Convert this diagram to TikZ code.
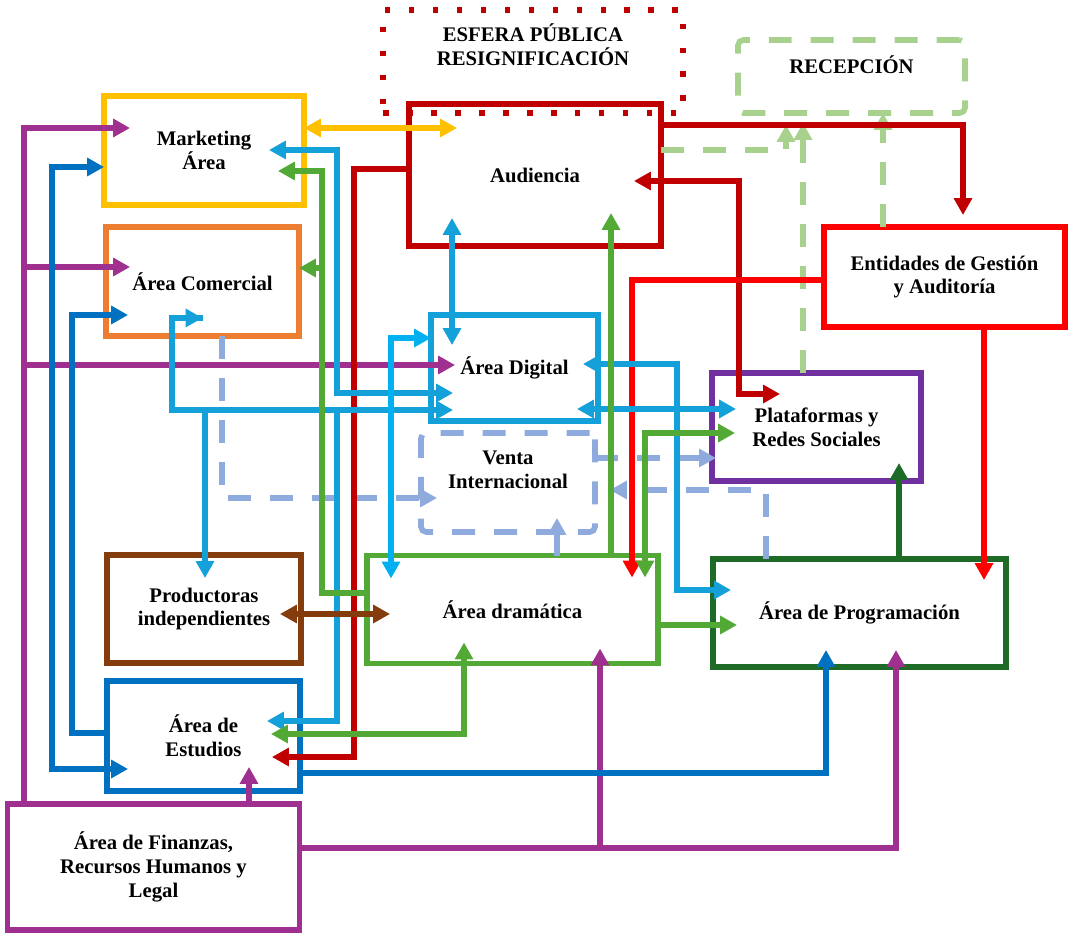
\documentclass[tikz,border=0pt]{standalone}
\usepackage{fontspec}
\setmainfont{Liberation Serif}
\usetikzlibrary{positioning,arrows.meta,calc}
\definecolor{cYellow}{HTML}{FFC000}
\definecolor{cOrange}{HTML}{ED7D31}
\definecolor{cDarkRed}{HTML}{C00000}
\definecolor{cRed}{HTML}{FF0000}
\definecolor{cSky}{HTML}{14A0D8}
\definecolor{cCyan}{HTML}{00B0F0}
\definecolor{cBlue}{HTML}{0070C0}
\definecolor{cViolet}{HTML}{7030A0}
\definecolor{cMagenta}{HTML}{A0308F}
\definecolor{cBrown}{HTML}{843C0C}
\definecolor{cGreen}{HTML}{52A936}
\definecolor{cDkGreen}{HTML}{1D6B27}
\definecolor{cPaleBlue}{HTML}{8FAADC}
\definecolor{cPaleGreen}{HTML}{A9D18E}
\begin{document}
\begin{tikzpicture}[x=0.02cm,y=-0.02cm,>={Triangle[length=9.6pt,width=10pt]},
  font=\fontsize{11.8}{13.6}\selectfont\bfseries,
  box/.style={draw,line width=3.2pt,align=center,inner sep=0pt,outer sep=0pt},
  dotbox/.style={box,dash pattern=on 0.11cm off 0.37cm},
  dashbox/.style={box,rounded corners=3pt,dash pattern=on 0.46cm off 0.38cm},
  flow/.style={line width=2.9pt,->},
  twoway/.style={line width=2.9pt,<->},
  dashflow/.style={flow,dash pattern=on 0.46cm off 0.38cm}]
\useasboundingbox (0,0) rectangle (1071,935);
% boxes
\node[dotbox,draw=cDarkRed,minimum width=6cm,minimum height=2.06cm,
  label={[anchor=north,inner sep=0pt,yshift=-0.27cm,align=center]north:{ESFERA PÚBLICA\\RESIGNIFICACIÓN}}] (esf) at (533,61.5) {};
\node[dashbox,draw=cPaleGreen,minimum width=4.54cm,minimum height=1.46cm,
  label={[anchor=north,inner sep=0pt,yshift=-0.3cm]north:{RECEPCIÓN}}] (rec) at (851.5,76.5) {};
\node[box,draw=cYellow,minimum width=4cm,minimum height=2.18cm] (mkt) at (204,150.5) {Marketing\\Área};
\node[box,draw=cOrange,minimum width=3.86cm,minimum height=2.18cm] (com) at (202.5,281.5) {Área Comercial};
\node[box,draw=cDarkRed,minimum width=5.04cm,minimum height=2.84cm] (aud) at (535,175) {Audiencia};
\node[box,draw=cRed,minimum width=4.82cm,minimum height=2cm] (ent) at (944.5,277) {Entidades de Gestión\\y Auditoría};
\node[box,draw=cSky,minimum width=3.34cm,minimum height=2.12cm] (dig) at (514.5,368) {Área Digital};
\node[dashbox,draw=cPaleBlue,minimum width=3.48cm,minimum height=1.98cm,
  label={[anchor=north,inner sep=0pt,yshift=-0.36cm,align=center]north:{Venta\\Internacional}}] (ven) at (508,482.5) {};
\node[box,draw=cViolet,minimum width=4.18cm,minimum height=2.16cm] (pla) at (816.5,427) {Plataformas y\\Redes Sociales};
\node[box,draw=cBrown,minimum width=3.88cm,minimum height=2.16cm] (pro) at (204,609) {Productoras\\independientes};
\node[box,draw=cGreen,minimum width=5.82cm,minimum height=2.16cm] (dra) at (512.5,609.5) {Área dramática};
\node[box,draw=cDkGreen,minimum width=5.86cm,minimum height=2.16cm] (prg) at (859.5,613) {Área de Programación};
\node[box,draw=cBlue,minimum width=3.86cm,minimum height=2.2cm] (est) at (203.5,736) {Área de\\Estudios};
\node[box,draw=cMagenta,minimum width=5.84cm,minimum height=2.52cm] (fin) at (153.5,867) {Área de Finanzas,\\Recursos Humanos y\\Legal};
% recepcion
\draw[dashflow,cPaleGreen] (aud.east |- 0,150) -| ($(rec.south -| 786,0)+(0,12)$);
\draw[dashflow,cPaleGreen] (pla.north -| 803,0) -- ($(rec.south -| 803,0)+(0,10)$);
\draw[dashflow,cPaleGreen] (ent.north -| 883,0) -- (rec.south -| 883,0);
% venta internacional
\draw[dashflow,cPaleBlue] (com.south -| 222,0) |- ($(ven.west |- 0,498)+(16,0)$);
\draw[dashflow,cPaleBlue] (ven.east |- 0,458) -- ($(pla.west |- 0,458)+(4,0)$);
\draw[dashflow,cPaleBlue] (prg.north -| 766,0) |- ($(ven.east |- 0,490)+(15,0)$);
\draw[dashflow,cPaleBlue] (dra.north -| 557,0) -- ($(ven.south -| 557,0)+(0,-14)$);
% finanzas
\draw[flow,cMagenta] (fin.north -| 24,0) |- (mkt.west |- 0,128) -- ++(26,0);
\draw[flow,cMagenta] (fin.north -| 24,0) |- (com.west |- 0,267) -- ++(24,0);
\draw[flow,cMagenta] (fin.north -| 24,0) |- (dig.west |- 0,365) -- ++(24,0);
\draw[flow,cMagenta] (fin.north -| 249,0) -- (est.south -| 249,0) -- ++(0,-24);
\draw[flow,cMagenta] (fin.east |- 0,848) -| (prg.south -| 896,0) -- ++(0,-17);
\draw[flow,cMagenta] (fin.east |- 0,848) -| (dra.south -| 600,0) -- ++(0,-15);
% estudios
\draw[twoway,cBlue] (mkt.west |- 0,167) -| (52,769) -- (est.west |- 0,769) -- ++(21,0);
\draw[flow,cBlue] (est.west |- 0,733) -| (72,315) -- (com.west |- 0,315) -- ++(22,0);
\draw[flow,cBlue] (est.east |- 0,773) -| (prg.south -| 826,0) -- ++(0,-17);
% audiencia
\draw[twoway,cYellow] (mkt.east |- 0,128) -- (aud.west |- 0,128) -- ++(48,0);
\draw[flow,cDarkRed] (aud.east |- 0,125) -| ($(ent.north -| 963,0)+(0,-12)$);
\draw[twoway,cDarkRed] ($(aud.east |- 0,181)+(-27,0)$) -| ($(pla.north west)+(27,21)$) -- ++(41,0);
\draw[flow,cDarkRed] (aud.west |- 0,169) -| (354,757) -- (est.east |- 0,757) -- ++(-28,0);
% entidades
\draw[flow,cRed] (ent.west |- 0,280) -| ($(dra.north -| 632,0)+(0,22)$);
\draw[flow,cRed] (ent.south -| 984,0) -- ($(prg.north -| 984,0)+(0,21)$);
% area digital
\draw[twoway,cSky] ($(mkt.east |- 0,150)+(-35,0)$) -| (337,393) -- (dig.west |- 0,393) -- ++(22,0);
\draw[twoway,cSky] ($(com.south)+(0,-18)$) -| (172,410) -- (dig.west |- 0,410) -- ++(22,0);
\draw[flow,cSky] ($(com.south)+(0,-18)$) -| (172,410) -| (pro.north -| 205,0) -- ++(0,23);
\draw[flow,cSky] ($(com.south)+(0,-18)$) -| (172,410) -| (337,721) -- (est.east |- 0,721) -- ++(-33,0);
\draw[twoway,cSky] ($(aud.south -| 452,0)+(0,-28)$) -- ($(dig.north -| 452,0)+(0,30)$);
\draw[twoway,cSky] ($(dig.east |- 0,364)+(-15,0)$) -| (677,590) -- (prg.west |- 0,590) -- ++(18,0);
\draw[twoway,cSky] ($(dig.east |- 0,409)+(-21,0)$) -- ($(pla.west |- 0,409)+(24,0)$);
\draw[twoway,cCyan] (dig.west |- 0,338) -| (dra.north -| 391,0) -- ++(0,23);
% area dramatica
\draw[flow,cGreen] (dra.north -| 611,0) -- (aud.south -| 611,0) -- ++(0,-33);
\draw[flow,cGreen] (dra.west |- 0,593) -| (322,171) -- (mkt.east |- 0,171) -- ++(-26,0);
\draw[flow,cGreen] (dra.west |- 0,593) -| (322,268) -- (com.east |- 0,268);
\draw[twoway,cGreen] ($(dra.south -| 464,0)+(0,-21)$) |- (est.east |- 0,734) -- ++(-29,0);
\draw[flow,cGreen] (dra.east |- 0,625) -- (prg.west |- 0,625) -- ++(24,0);
\draw[twoway,cGreen] ($(dra.north -| 645,0)+(0,22)$) |- (pla.west |- 0,433) -- ++(23,0);
\draw[twoway,cBrown] ($(pro.east |- 0,614)+(-21,0)$) -- ($(dra.west |- 0,614)+(23,0)$);
% programacion
\draw[flow,cDkGreen] (prg.north -| 899,0) -- ($(pla.south -| 899,0)+(0,-18)$);
\end{tikzpicture}
\end{document}
